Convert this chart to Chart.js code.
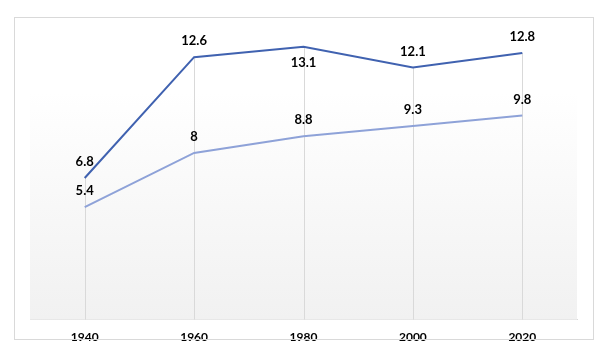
<!DOCTYPE html>
<html>
<head>
<meta charset="utf-8">
<script src="https://cdn.jsdelivr.net/npm/chart.js@4"></script>
<style>
    html, body { margin: 0; padding: 0; background: #fff; }
    #wrap { position: relative; width: 608px; height: 360px; }
    #frame { position: absolute; left: 14px; top: 17px; width: 580px; height: 323px; border: 1px solid #d9d9d9; box-sizing: border-box; pointer-events: none; }
</style>
</head>
<body>
<div id="wrap">
    <canvas id="lineChart" width="608" height="360"></canvas>
    <div id="frame"></div>
</div>
<script>
// ===============================
// Data
// ===============================
const years = ['1940', '1960', '1980', '2000', '2020'];
const seriesTop = [6.8, 12.6, 13.1, 12.1, 12.8];
const seriesLow = [5.4, 8, 8.8, 9.3, 9.8];
// label goes above the point unless listed here
const topBelow = [false, false, true, false, false];

// ===============================
// Plot background + drop lines + value labels
// ===============================
const excelLook = {
    id: 'excelLook',
    beforeDatasetsDraw(chart) {
        const { ctx, chartArea: a } = chart;
        ctx.save();
        const g = ctx.createLinearGradient(0, a.top, 0, a.bottom);
        g.addColorStop(0, '#ffffff');
        g.addColorStop(0.22, '#ffffff');
        g.addColorStop(1, '#f1f1f1');
        ctx.fillStyle = g;
        ctx.fillRect(a.left, a.top, a.right - a.left, a.bottom - a.top);

        // drop lines from highest point to axis
        const meta = chart.getDatasetMeta(0);
        ctx.strokeStyle = '#d9d9d9';
        ctx.lineWidth = 1;
        meta.data.forEach(pt => {
            const x = Math.round(pt.x) + 0.5;
            ctx.beginPath();
            ctx.moveTo(x, pt.y);
            ctx.lineTo(x, a.bottom);
            ctx.stroke();
        });
        ctx.restore();
    },
    afterDatasetsDraw(chart) {
        const { ctx } = chart;
        ctx.save();
        ctx.font = 'bold 13px Lato, sans-serif';
        ctx.fillStyle = '#000';
        ctx.textAlign = 'center';
        ctx.textBaseline = 'middle';
        chart.data.datasets.forEach((ds, di) => {
            chart.getDatasetMeta(di).data.forEach((pt, i) => {
                const below = di === 0 && topBelow[i];
                const y = below ? pt.y + 16 : pt.y - 16;
                ctx.fillText(String(ds.data[i]), pt.x, y);
            });
        });
        ctx.restore();
    }
};

const ctx = document.getElementById('lineChart');
new Chart(ctx.getContext('2d'), {
    type: 'line',
    data: {
        labels: years,
        datasets: [{
            label: 'Series 1',
            data: seriesTop,
            borderColor: '#4062b0',
            borderWidth: 2,
            pointRadius: 0,
            tension: 0
        }, {
            label: 'Series 2',
            data: seriesLow,
            borderColor: '#8ea2d8',
            borderWidth: 2,
            pointRadius: 0,
            tension: 0
        }]
    },
    options: {
        responsive: false,
        animation: false,
        layout: { padding: { left: 30, right: 31, top: 28, bottom: 6 } },
        plugins: { legend: { display: false }, tooltip: { enabled: false } },
        scales: {
            x: {
                offset: true,
                grid: { display: false, drawTicks: false },
                border: { display: true, color: '#d9d9d9', width: 1 },
                ticks: {
                    padding: 10,
                    color: '#000',
                    font: { family: 'Lato, sans-serif', size: 12, weight: 'bold' }
                }
            },
            y: {
                display: false,
                min: 0,
                max: 14
            }
        }
    },
    plugins: [excelLook]
});
</script>
</body>
</html>
